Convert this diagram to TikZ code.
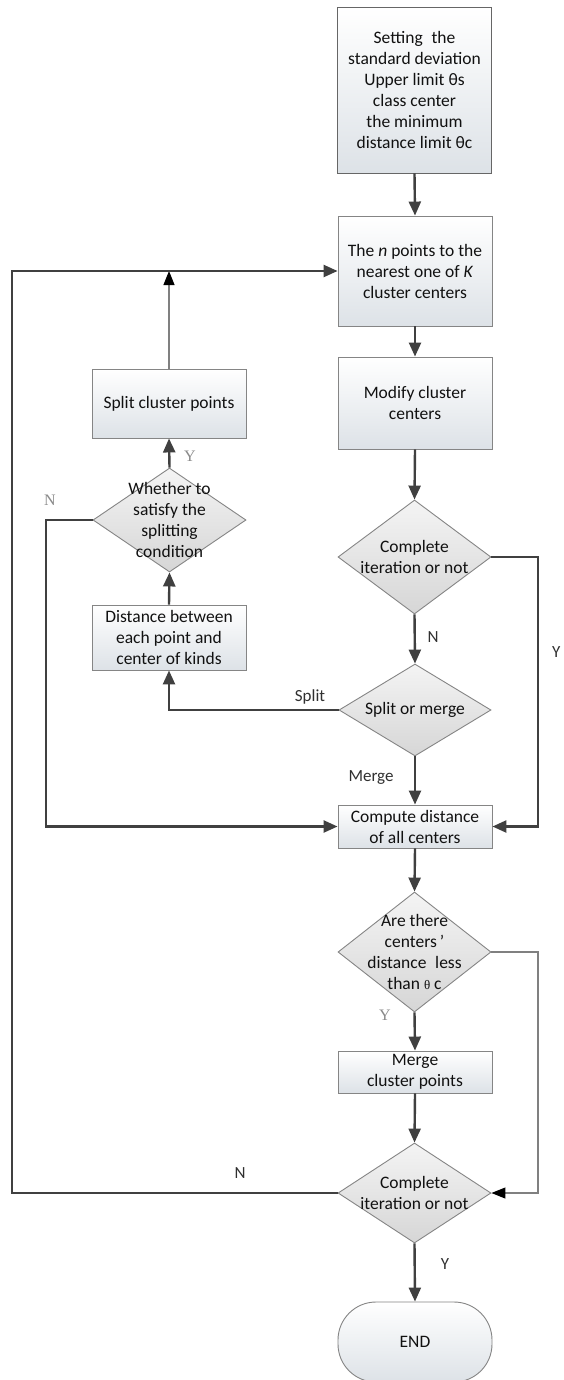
\documentclass[tikz,border=0pt]{standalone}
\usepackage{fontspec}
\setmainfont{Carlito}
\newfontfamily\serifl{Liberation Serif}
\usetikzlibrary{arrows.meta,shapes.geometric}
\definecolor{txtc}{HTML}{111111}
\definecolor{bordc}{HTML}{858585}
\definecolor{boxbot}{HTML}{DDE2E7}
\definecolor{diatop}{HTML}{F4F4F4}
\definecolor{diabot}{HTML}{D6D6D6}
\definecolor{linec}{HTML}{404040}
\definecolor{thinc}{HTML}{808080}
\definecolor{labc}{HTML}{303030}
\definecolor{graylab}{HTML}{8A8A8A}
\tikzset{
 base/.style={font=\fontsize{17.5}{21}\selectfont, text=txtc, align=center},
 box/.style={base, rectangle, draw=bordc, line width=0.9pt, top color=white, bottom color=boxbot, minimum width=154pt, inner sep=0pt},
 dia/.style={diamond, draw=bordc, line width=0.9pt, top color=diatop, bottom color=diabot, inner sep=0pt},
 txt/.style={base, inner sep=0pt},
 flow/.style={draw=linec, line width=2.4pt, -{Triangle[length=14pt,width=12pt]}},
 thinflow/.style={draw=thinc, line width=1.1pt, -{Triangle[length=14pt,width=11pt,color=black]}},
 lab/.style={font=\fontsize{17}{20}\selectfont, text=labc, inner sep=0pt},
 slab/.style={font=\serifl\fontsize{16}{20}\selectfont, text=graylab, inner sep=0pt},
}
\begin{document}
\begin{tikzpicture}[x=1pt,y=-1pt]
\useasboundingbox[fill=white] (0,0) rectangle (564,1380);

% right column
\node[box, minimum height=166pt, draw=black!60] (top) at (414.5,90) {Setting\hspace{0.5em}the\\standard deviation\\Upper limit θs\\class center\\the minimum\\distance limit θc};
\node[box, minimum height=110pt] (assign) at (415,271) {The \textit{n} points to the\\nearest one of \textit{K}\\cluster centers};
\node[box, minimum height=92pt] (modify) at (415,403) {Modify cluster\\centers};
\node[dia, minimum width=153pt, minimum height=114pt] (d1) at (414.5,557) {};
\node[txt] (d1t) at (d1) {Complete\\iteration or not};
\node[dia, minimum width=152pt, minimum height=92pt] (dsm) at (415,710) {};
\node[txt] (dsmt) at (dsm) {Split or merge};
\node[box, minimum height=43pt] (compute) at (415,826.5) {Compute distance\\of all centers};
\node[dia, minimum width=153pt, minimum height=120pt] (d3) at (414.5,952) {};
\node[txt] (d3t) at (d3) {Are there\\centers\hspace{3pt}’\\distance\hspace{0.5em}less\\than {\serifl\fontsize{13}{14}\selectfont θ} c};
\node[box, minimum height=42pt] (mergebox) at (415,1072) {Merge\\cluster points};
\node[dia, minimum width=153pt, minimum height=100pt] (d4) at (414.5,1193) {};
\node[txt] (d4t) at (d4) {Complete\\iteration or not};
\node[box, minimum height=80pt, rounded corners=38pt] (end) at (415,1342) {END};

% left column
\node[box, minimum height=69pt] (split) at (169,403.5) {Split cluster points};
\node[dia, minimum width=153pt, minimum height=104pt] (whether) at (169.5,520) {};
\node[txt] (whethert) at (whether) {Whether to\\satisfy the\\splitting\\condition};
\node[box, minimum height=65pt] (dist) at (169,637.5) {Distance between\\each point and\\center of kinds};

% helper coordinates
\coordinate (r1) at (538,557);
\coordinate (r2) at (538,952);
\coordinate (l1) at (46,520);
\coordinate (l2) at (12,1193);
\coordinate (j1) at (split.north |- assign.west);

% connectors
\draw[flow] (top.south) -- (assign.north);
\draw[flow] (assign.south) -- (modify.north);
\draw[flow] (modify.south) -- (d1.north);
\draw[flow] (d1.south) -- (dsm.north);
\draw[flow] (dsm.west) -| (dist.south);
\draw[flow] (dsm.south) -- (compute.north);
\draw[flow] (d1.east) -- (r1) |- (compute.east);
\draw[flow] (dist.north) -- (whether.south);
\draw[flow] (whether.north) -- (split.south);
\draw[flow] (whether.west) -- (l1) |- (compute.west);
\draw[thinflow] (split.north) -- (j1);
\draw[flow] (d4.west) -- (l2) |- (assign.west);
\draw[flow] (compute.south) -- (d3.north);
\draw[flow] (d3.south) -- (mergebox.north);
\draw[thinflow] (d3.east) -- (r2) |- (d4.east);
\draw[flow] (mergebox.south) -- (d4.north);
\draw[flow] (d4.south) -- (end.north);

% labels
\node[lab] (lN1) at (433,637) {N};
\node[lab] (lsplit) at (310,697) {Split};
\node[lab] (lmerge) at (371,777) {Merge};
\node[lab] (lN2) at (240,1173) {N};
\node[lab] (lY2) at (445,1264) {Y};
\node[lab, anchor=west] (lYclip) at (552,652) {Y};
\node[slab] (lYw) at (190,456) {Y};
\node[slab] (lNw) at (50,500) {N};
\node[slab] (lY3) at (385,1015) {Y};
\end{tikzpicture}
\end{document}
